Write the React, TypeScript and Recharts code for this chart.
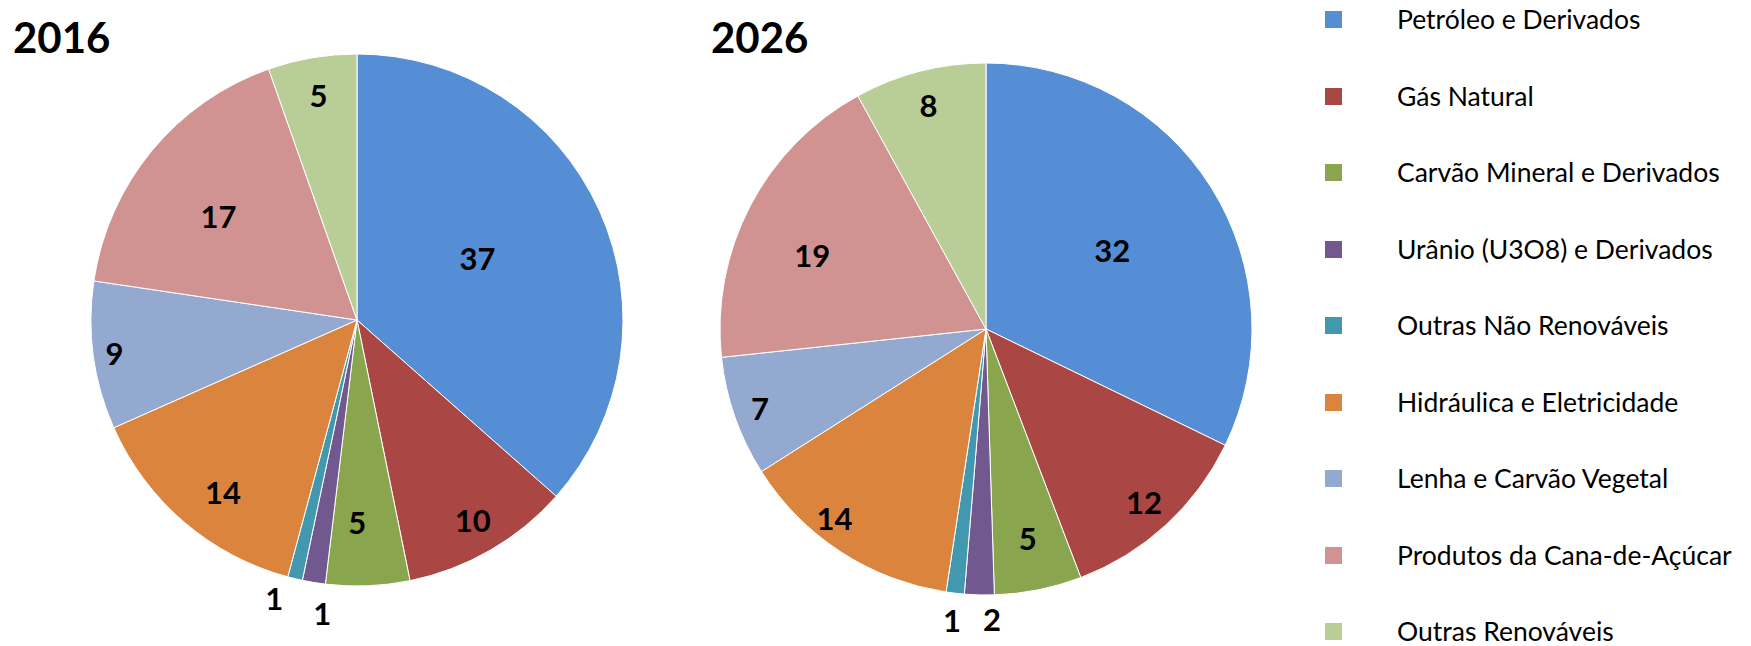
import React from 'react';
import { PieChart, Pie, Cell, Legend } from 'recharts';

// Matriz energética (%), 2016 x 2026
const categories = [
  'Petróleo e Derivados',
  'Gás Natural',
  'Carvão Mineral e Derivados',
  'Urânio (U3O8) e Derivados',
  'Outras Não Renováveis',
  'Hidráulica e Eletricidade',
  'Lenha e Carvão Vegetal',
  'Produtos da Cana-de-Açúcar',
  'Outras Renováveis',
];
const values2016 = [36.6, 10.3, 5.1, 1.4, 0.9, 14.2, 9.0, 17.3, 5.4];
const values2026 = [32.2, 12.0, 5.3, 1.8, 1.1, 13.6, 7.3, 18.7, 8.0];
const years = ['2016', '2026'];

const COLORS = ['#558ED5', '#AA4643', '#89A54E', '#71588F', '#4198AF', '#DB843D', '#93A9CF', '#D19392', '#B9CD96'];

// label placement (fraction of radius, angular nudge in degrees) like Excel's best fit
const labelR2016 = [0.51, 0.87, 0.76, 1.11, 1.09, 0.82, 0.92, 0.65, 0.86];
const labelShift2016 = [-3, 0, 2.3, -2.6, 3.1, -2.7, 0, -2.7, 0];
const labelR2026 = [0.56, 0.88, 0.8, 1.09, 1.1, 0.91, 0.9, 0.71, 0.87];
const labelShift2026 = [0, 0, 0, -2.6, 0, 5.6, 0, -4.5, 0];

const FONT = 'Lato, "Open Sans", sans-serif';

const data2016 = categories.map((name, i) => ({ name, value: values2016[i] }));
const data2026 = categories.map((name, i) => ({ name, value: values2026[i] }));

const makeLabel = (radii: number[], shifts: number[]) => (props: any) => {
  const { cx, cy, midAngle, outerRadius, index, value } = props;
  const a = ((midAngle - shifts[index]) * Math.PI) / 180;
  const r = outerRadius * radii[index];
  return (
    <text
      x={cx + r * Math.cos(a)}
      y={cy - r * Math.sin(a)}
      textAnchor="middle"
      dominantBaseline="central"
      fontFamily={FONT}
      fontWeight={700}
      fontSize={31}
      fill="#000"
    >
      {Math.round(value)}
    </text>
  );
};

const renderLegend = () => (
  <div style={{ position: 'relative', fontFamily: FONT, fontSize: 26.5, color: '#000' }}>
    {categories.map((c, i) => (
      <div key={c} style={{ position: 'absolute', left: 0, top: i * 76.5, height: 23, display: 'flex', alignItems: 'center', whiteSpace: 'nowrap' }}>
        <span style={{ display: 'inline-block', width: 17, height: 17, background: COLORS[i] }} />
        <span style={{ marginLeft: 55, lineHeight: 1 }}>{c}</span>
      </div>
    ))}
  </div>
);

const titleStyle: React.CSSProperties = {
  position: 'absolute',
  top: 8,
  fontFamily: FONT,
  fontWeight: 700,
  fontSize: 42,
  lineHeight: 1,
};

export default function App() {
  return (
    <div style={{ position: 'relative', width: 1735, height: 638 }}>
      <PieChart width={1735} height={638}>
        <Pie
          data={data2016}
          dataKey="value"
          nameKey="name"
          cx={344}
          cy={307}
          outerRadius={266}
          startAngle={90}
          endAngle={-270}
          stroke="#fff"
          strokeWidth={1}
          labelLine={false}
          label={makeLabel(labelR2016, labelShift2016)}
          isAnimationActive={false}
        >
          {data2016.map((d, i) => (
            <Cell key={d.name} fill={COLORS[i]} />
          ))}
        </Pie>
        <Pie
          data={data2026}
          dataKey="value"
          nameKey="name"
          cx={973}
          cy={316}
          outerRadius={266}
          startAngle={90}
          endAngle={-270}
          stroke="#fff"
          strokeWidth={1}
          labelLine={false}
          label={makeLabel(labelR2026, labelShift2026)}
          isAnimationActive={false}
        >
          {data2026.map((d, i) => (
            <Cell key={d.name} fill={COLORS[i]} />
          ))}
        </Pie>
        <Legend
          content={renderLegend}
          wrapperStyle={{ position: 'absolute', left: 1317, top: 0, width: 418, height: 638, bottom: 'auto', overflow: 'visible' }}
        />
      </PieChart>
      <div style={{ ...titleStyle, left: 5 }}>{years[0]}</div>
      <div style={{ ...titleStyle, left: 703 }}>{years[1]}</div>
    </div>
  );
}
